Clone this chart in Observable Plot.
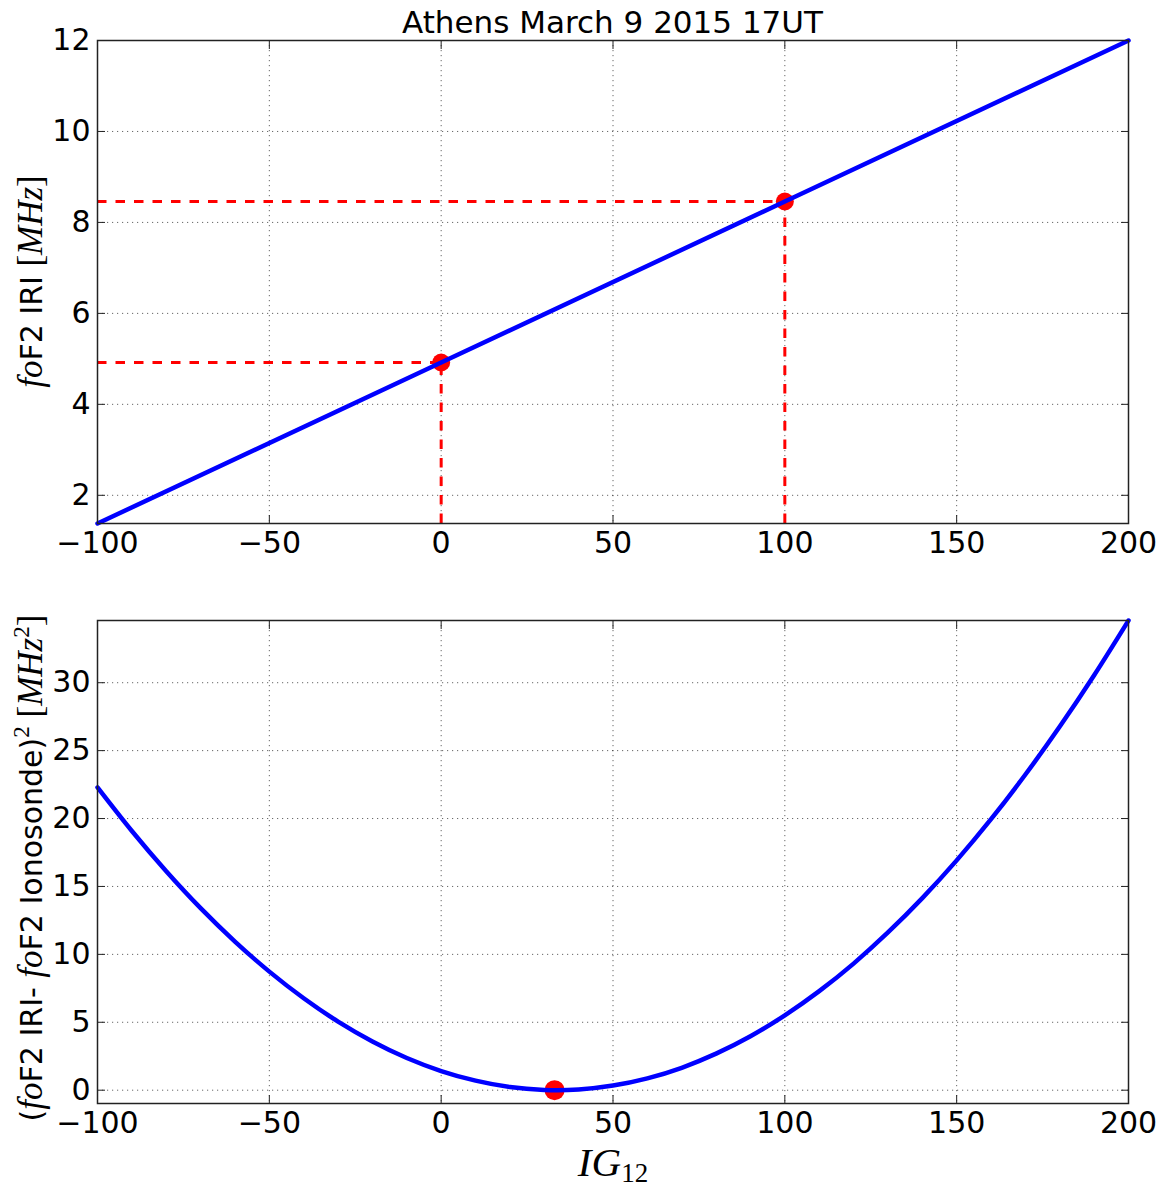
<!DOCTYPE html>
<html><head><meta charset="utf-8">
<script src="https://cdn.jsdelivr.net/npm/d3@7"></script>
<script src="https://cdn.jsdelivr.net/npm/@observablehq/plot@0.6"></script>
<style>
body{margin:0;background:#fff;}
#chart{position:relative;width:1164px;height:1188px;font-family:"DejaVu Sans",sans-serif;}
#chart svg{display:block;overflow:visible;}
</style></head><body><div id="chart"></div>
<script>
// ---- data ----
const titleText = "Athens March 9 2015 17UT";
const xTicks = [-100, -50, 0, 50, 100, 150, 200];
const topYTicks = [2, 4, 6, 8, 10, 12];
const bottomYTicks = [0, 5, 10, 15, 20, 25, 30];
const topXDomain = [-100, 200];
const topYDomain = [1.38, 12];
const bottomYDomain = [-0.98, 34.58];

// top panel: IRI foF2 vs IG12 (straight line)
const lineIG = [-100, 0, 100, 200];
const lineFoF2 = [1.38, 4.92, 8.46, 12.0];
// marked points
const markIG = [0, 100];
const markFoF2 = [4.92, 8.46];

// bottom panel: squared difference
const curveIG = [-100, -90, -80, -70, -60, -50, -40, -30, -20, -10, 0, 10, 20, 30, 33.6, 40, 50, 60, 70, 80, 90, 100, 110, 120, 130, 140, 150, 160, 170, 180, 190, 200];
const curveSq = [22.29, 19.08, 16.12, 13.40, 10.94, 8.73, 6.77, 5.05, 3.59, 2.37, 1.41, 0.70, 0.23, 0.02, 0.0, 0.05, 0.34, 0.87, 1.65, 2.69, 3.97, 5.51, 7.29, 9.32, 11.61, 14.14, 16.92, 19.95, 23.24, 26.77, 30.55, 34.58];
const minIG = [33];
const minSq = [0];

// ---- build tables ----
const lineData = lineIG.map((x, i) => ({x, y: lineFoF2[i]}));
const markData = markIG.map((x, i) => ({x, y: markFoF2[i]}));
const curveData = curveIG.map((x, i) => ({x, y: curveSq[i]}));
const minData = minIG.map((x, i) => ({x, y: minSq[i]}));

const gridStyle = {stroke: "#000", strokeOpacity: 0.6, strokeWidth: 1, strokeDasharray: "1.2,3.8"};

function frameAxes(yTicks) {
  return [
    Plot.gridX(xTicks, gridStyle),
    Plot.gridY(yTicks, gridStyle),
    Plot.axisX(xTicks, {anchor: "bottom", tickSize: -8, tickPadding: 16, fontSize: 30, label: null, stroke: "#222"}),
    Plot.axisX(xTicks, {anchor: "top", tickSize: -8, tickFormat: () => "", label: null, stroke: "#222"}),
    Plot.axisY(yTicks, {anchor: "left", tickSize: -8, tickPadding: 15, fontSize: 30, label: null, stroke: "#222"}),
    Plot.axisY(yTicks, {anchor: "right", tickSize: -8, tickFormat: () => "", label: null, stroke: "#222"})
  ];
}

const common = {
  width: 1164,
  marginLeft: 97,
  marginRight: 36,
  style: {fontFamily: "DejaVu Sans, sans-serif", background: "#fff", color: "#000"}
};

const topPlot = Plot.plot({
  ...common,
  height: 580,
  marginTop: 40,
  marginBottom: 57,
  x: {domain: topXDomain, label: null},
  y: {domain: topYDomain, label: null},
  marks: [
    ...frameAxes(topYTicks),
    Plot.ruleY(markData, {y: "y", x1: topXDomain[0], x2: "x", stroke: "#ff0000", strokeWidth: 3, strokeDasharray: "9.5,9"}),
    Plot.ruleX(markData, {x: "x", y1: topYDomain[0], y2: "y", stroke: "#ff0000", strokeWidth: 3, strokeDasharray: "9.5,9"}),
    Plot.dot(markData, {x: "x", y: "y", r: 9, fill: "#ff0000", stroke: "none"}),
    Plot.line(lineData, {x: "x", y: "y", stroke: "#0000ff", strokeWidth: 4.5}),
    Plot.frame({stroke: "#222", strokeWidth: 1.5})
  ]
});

const bottomPlot = Plot.plot({
  ...common,
  height: 608,
  marginTop: 40,
  marginBottom: 85,
  x: {domain: topXDomain, label: null},
  y: {domain: bottomYDomain, label: null},
  marks: [
    ...frameAxes(bottomYTicks),
    Plot.dot(minData, {x: "x", y: "y", r: 10, fill: "#ff0000", stroke: "none"}),
    Plot.line(curveData, {x: "x", y: "y", stroke: "#0000ff", strokeWidth: 4.5, curve: "monotone-x"}),
    Plot.frame({stroke: "#222", strokeWidth: 1.5})
  ]
});

const chart = document.getElementById("chart");
chart.appendChild(topPlot);
chart.appendChild(bottomPlot);

const SERIF = "'Liberation Serif', 'DejaVu Serif', serif";
const SANS = "'DejaVu Sans', sans-serif";

function addText(svg, attrs, parts) {
  const t = d3.select(svg).append("text");
  for (const [k, v] of Object.entries(attrs)) t.attr(k, v);
  for (const p of parts) {
    const s = t.append("tspan").text(p.t)
      .attr("font-family", p.serif ? SERIF : SANS)
      .attr("font-style", p.italic ? "italic" : "normal");
    if (p.size) s.attr("font-size", p.size);
    if (p.dy) s.attr("dy", p.dy);
  }
  return t;
}

// title
addText(topPlot, {x: 612.5, y: 33, "text-anchor": "middle", "font-size": 31, fill: "#000"},
  [{t: titleText}]);

// top y label
addText(topPlot, {transform: "translate(42,281.5) rotate(-90)", "text-anchor": "middle", "font-size": 30, fill: "#000"},
  [{t: "fo", serif: true, italic: true, size: 35},
   {t: "F2 IRI "},
   {t: "[", serif: true, size: 35},
   {t: "MHz", serif: true, italic: true, size: 35},
   {t: "]", serif: true, size: 35}]);

// bottom y label
addText(bottomPlot, {transform: "translate(42,288) rotate(-90)", "text-anchor": "middle", "font-size": 30, fill: "#000"},
  [{t: "("},
   {t: "fo", serif: true, italic: true, size: 35},
   {t: "F2 IRI- "},
   {t: "fo", serif: true, italic: true, size: 35},
   {t: "F2 Ionosonde)"},
   {t: "2", serif: true, size: 23, dy: -13},
   {t: " [", serif: true, size: 35, dy: 13},
   {t: "MHz", serif: true, italic: true, size: 35},
   {t: "2", serif: true, size: 23, dy: -13},
   {t: "]", serif: true, size: 35, dy: 13}]);

// x label
addText(bottomPlot, {x: 613, y: 596, "text-anchor": "middle", "font-size": 41, fill: "#000"},
  [{t: "IG", serif: true, italic: true},
   {t: "12", serif: true, size: 27, dy: 6}]);
</script>
</body></html>
